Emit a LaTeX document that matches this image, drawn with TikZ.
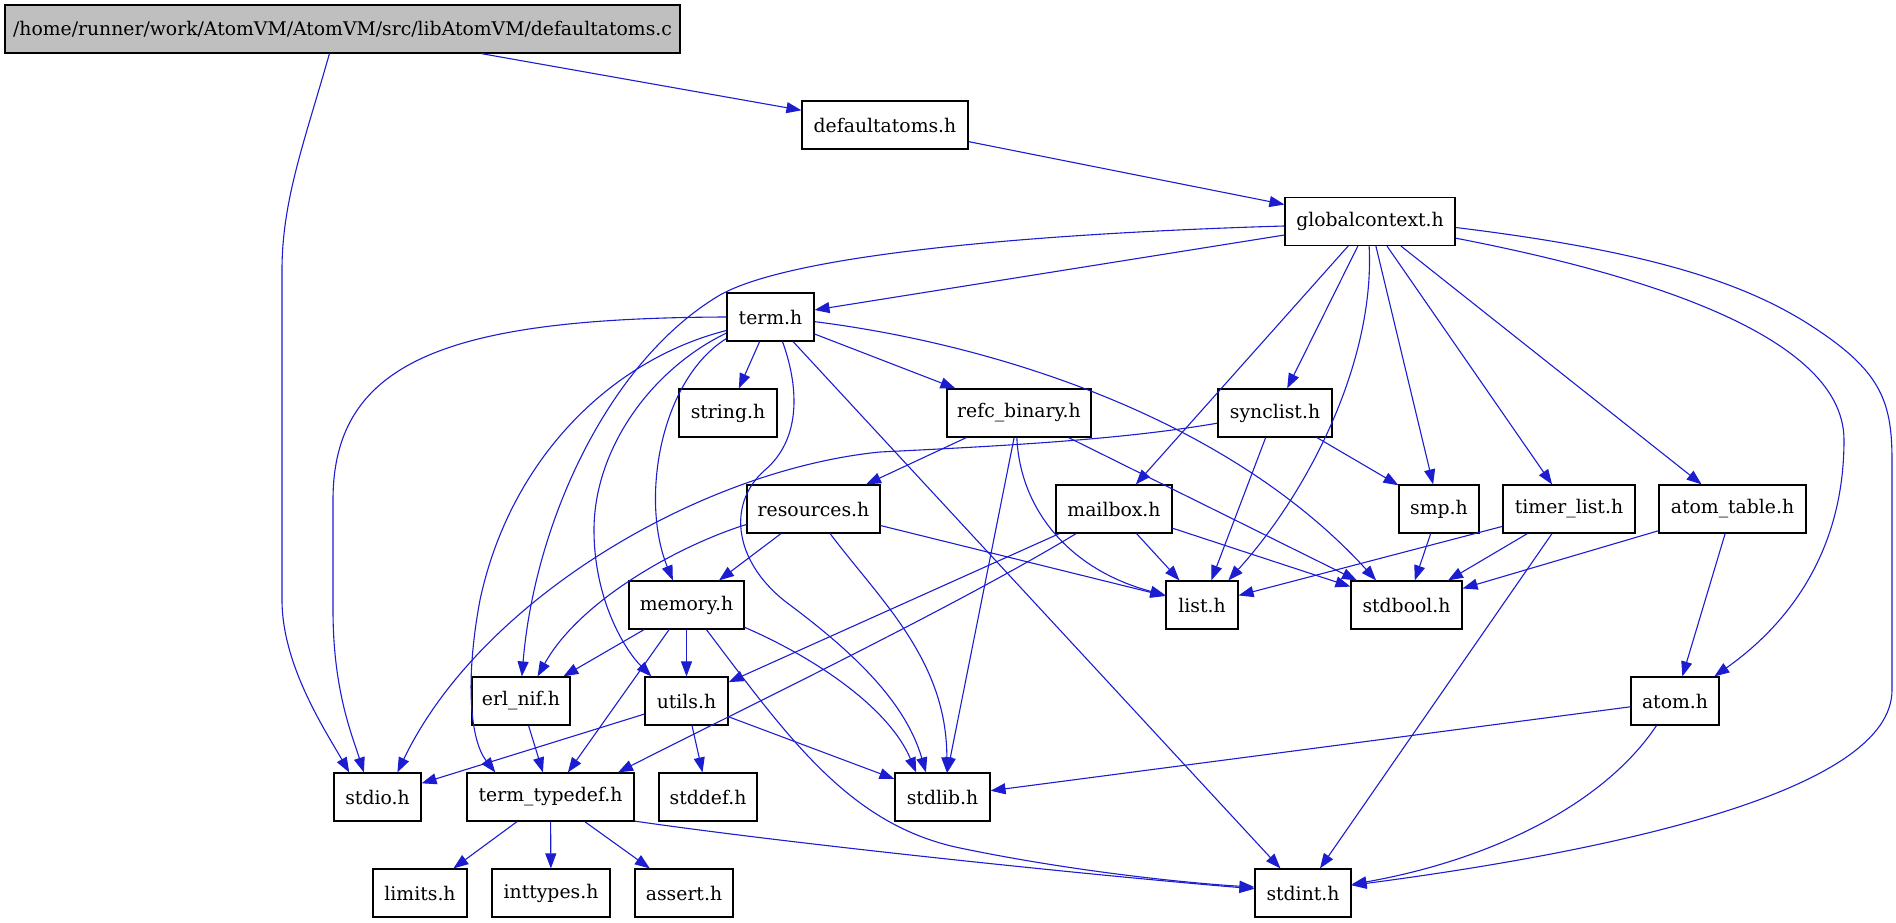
\documentclass[tikz,border=0pt]{standalone}
\usepackage{fontspec}
\setmainfont{DejaVu Serif}
\usepackage{tikz}
\usetikzlibrary{arrows.meta}
\usepackage{xcolor}
\definecolor{edgeblue}{RGB}{28,28,208}
\definecolor{rootgray}{RGB}{191,191,191}

\begin{document}
\begin{tikzpicture}[
    x = 1pt, y = -1pt,
    hdr/.style = {
        rectangle, draw=black, line width=1.15pt,
        fill=white, inner sep=0pt,
        minimum height = 48pt,
        font = \fontsize{18.8}{22}\selectfont
    },
    root/.style = { hdr, fill = rootgray },
    dep/.style  = { -{Triangle[length=15pt, width=11pt]}, edgeblue, line width=1.1pt },
]
\useasboundingbox (0,0) rectangle (1896,923);

%% ── Header boxes ─────────────────────────────────────────────────────────
\node[root, minimum width=675pt] (root) at (342.5,29)
    {/home/runner/work/AtomVM/AtomVM/src/libAtomVM/defaultatoms.c};
\node[hdr, minimum width=166pt] (defatoms)   at (885,125)    {defaultatoms.h};
\node[hdr, minimum width=170pt] (globalctx)  at (1370,221.5) {globalcontext.h};
\node[hdr, minimum width=87pt]  (term)       at (770.5,317)  {term.h};

\node[hdr, minimum width=98pt]  (stringh)    at (728,413)    {string.h};
\node[hdr, minimum width=144pt] (refcbin)    at (1019,413)   {refc\_binary.h};
\node[hdr, minimum width=114pt] (synclist)   at (1275,413)   {synclist.h};

\node[hdr, minimum width=133pt] (resources)  at (813.5,509)  {resources.h};
\node[hdr, minimum width=116pt] (mailbox)    at (1114,509)   {mailbox.h};
\node[hdr, minimum width=80pt]  (smp)        at (1439,509)   {smp.h};
\node[hdr, minimum width=132pt] (timerlist)  at (1569,509)   {timer\_list.h};
\node[hdr, minimum width=147pt] (atomtable)  at (1732.5,509) {atom\_table.h};

\node[hdr, minimum width=115pt] (memory)     at (686.5,605)  {memory.h};
\node[hdr, minimum width=72pt]  (listh)      at (1202,605)   {list.h};
\node[hdr, minimum width=111pt] (stdbool)    at (1406.5,605) {stdbool.h};

\node[hdr, minimum width=98pt]  (erlnif)     at (521,701)    {erl\_nif.h};
\node[hdr, minimum width=83pt]  (utils)      at (686.5,701)  {utils.h};
\node[hdr, minimum width=88pt]  (atom)       at (1675,701)   {atom.h};

\node[hdr, minimum width=87pt]  (stdio)      at (377.5,797)  {stdio.h};
\node[hdr, minimum width=167pt] (termtypedef) at (550.5,797) {term\_typedef.h};
\node[hdr, minimum width=98pt]  (stddef)     at (708,797)    {stddef.h};
\node[hdr, minimum width=95pt]  (stdlib)     at (942.5,797)  {stdlib.h};

\node[hdr, minimum width=94pt]  (limits)     at (420,893)    {limits.h};
\node[hdr, minimum width=118pt] (inttypes)   at (551,893)    {inttypes.h};
\node[hdr, minimum width=98pt]  (assert)     at (684,893)    {assert.h};
\node[hdr, minimum width=96pt]  (stdint)     at (1303,893)   {stdint.h};

%% ── Straight includes ────────────────────────────────────────────────────
\draw[dep] (root) -- (defatoms);
\draw[dep] (defatoms) -- (globalctx);

\draw[dep] (globalctx) -- (term);
\draw[dep] (globalctx) -- (mailbox);
\draw[dep] (globalctx) -- (synclist);
\draw[dep] (globalctx) -- (smp);
\draw[dep] (globalctx) -- (timerlist);
\draw[dep] (globalctx) -- (atomtable);

\draw[dep] (term) -- (stringh);
\draw[dep] (term) -- (stdint);
\draw[dep] (term) -- (refcbin);

\draw[dep] (refcbin) -- (resources);
\draw[dep] (refcbin) -- (stdlib);
\draw[dep] (refcbin) -- (stdbool);

\draw[dep] (resources) -- (memory);
\draw[dep] (resources) -- (listh);

\draw[dep] (memory) -- (erlnif);
\draw[dep] (memory) -- (utils);
\draw[dep] (memory) -- (termtypedef);

\draw[dep] (utils) -- (stdio);
\draw[dep] (utils) -- (stddef);
\draw[dep] (utils) -- (stdlib);

\draw[dep] (erlnif) -- (termtypedef);

\draw[dep] (mailbox) -- (listh);
\draw[dep] (mailbox) -- (stdbool);
\draw[dep] (mailbox) -- (utils);

\draw[dep] (synclist) -- (listh);
\draw[dep] (synclist) -- (smp);
\draw[dep] (smp) -- (stdbool);

\draw[dep] (timerlist) -- (listh);
\draw[dep] (timerlist) -- (stdbool);
\draw[dep] (timerlist) -- (stdint);

\draw[dep] (atomtable) -- (stdbool);
\draw[dep] (atomtable) -- (atom);
\draw[dep] (atom) -- (stdlib);

\draw[dep] (termtypedef) -- (limits);
\draw[dep] (termtypedef) -- (inttypes);
\draw[dep] (termtypedef) -- (assert);

%% ── Routed includes (splines) ────────────────────────────────────────────
\draw[dep] (root.242) .. controls (305,140) and (282,200) .. (282,270)
    -- (282,600) .. controls (282,665) and (325,730) .. (stdio.139);

\draw[dep] (globalctx.183) .. controls (1080,232) and (800,250) .. (720,295)
    .. controls (610,360) and (535,520) .. (erlnif.88);
\draw[dep] (globalctx.268) .. controls (1375,360) and (1310,490) .. (listh.43);
\draw[dep] (globalctx.349) .. controls (1620,270) and (1844,330) .. (1844,440)
    .. controls (1844,560) and (1780,630) .. (atom.32);
\draw[dep] (globalctx.356) .. controls (1640,250) and (1740,280) .. (1810,325)
    .. controls (1880,370) and (1892,400) .. (1892,460)
    -- (1892,690) .. controls (1892,790) and (1620,850) .. (stdint.9);

\draw[dep] (term.180) .. controls (450,318) and (333,360) .. (333,500)
    -- (333,610) .. controls (333,690) and (352,735) .. (stdio.119);
\draw[dep] (term.197) .. controls (610,360) and (510,460) .. (480,600)
    .. controls (465,680) and (470,740) .. (termtypedef.156);
\draw[dep] (term.200) .. controls (650,370) and (594,450) .. (594,530)
    .. controls (594,600) and (625,650) .. (utils.145);
\draw[dep] (term.206) .. controls (660,380) and (640,500) .. (memory.119);
\draw[dep] (term.296) .. controls (800,390) and (800,440) .. (765,470)
    .. controls (725,505) and (735,565) .. (790,605)
    .. controls (850,650) and (905,700) .. (stdlib.124);
\draw[dep] (term.354) .. controls (1000,345) and (1230,420) .. (stdbool.141);

\draw[dep] (refcbin.265) .. controls (1020,510) and (1070,570) .. (listh.165);

\draw[dep] (resources.193) .. controls (680,545) and (580,600) .. (erlnif.56);
\draw[dep] (resources.304) .. controls (880,600) and (947,660) .. (stdlib.80);

\draw[dep] (memory.339) .. controls (820,660) and (890,710) .. (stdlib.137);
\draw[dep] (memory.309) .. controls (790,740) and (850,825) .. (960,848)
    .. controls (1080,873) and (1200,884) .. (stdint.173);

\draw[dep] (mailbox.213) .. controls (950,610) and (720,720) .. (termtypedef.20);

\draw[dep] (synclist.190) .. controls (1120,440) and (1000,446) .. (880,452)
    .. controls (700,470) and (480,600) .. (stdio.51);

\draw[dep] (atom.233) .. controls (1600,810) and (1480,862) .. (stdint.10);
\draw[dep] (termtypedef.344) .. controls (800,845) and (1100,876) .. (stdint.175);

\end{tikzpicture}
\end{document}
